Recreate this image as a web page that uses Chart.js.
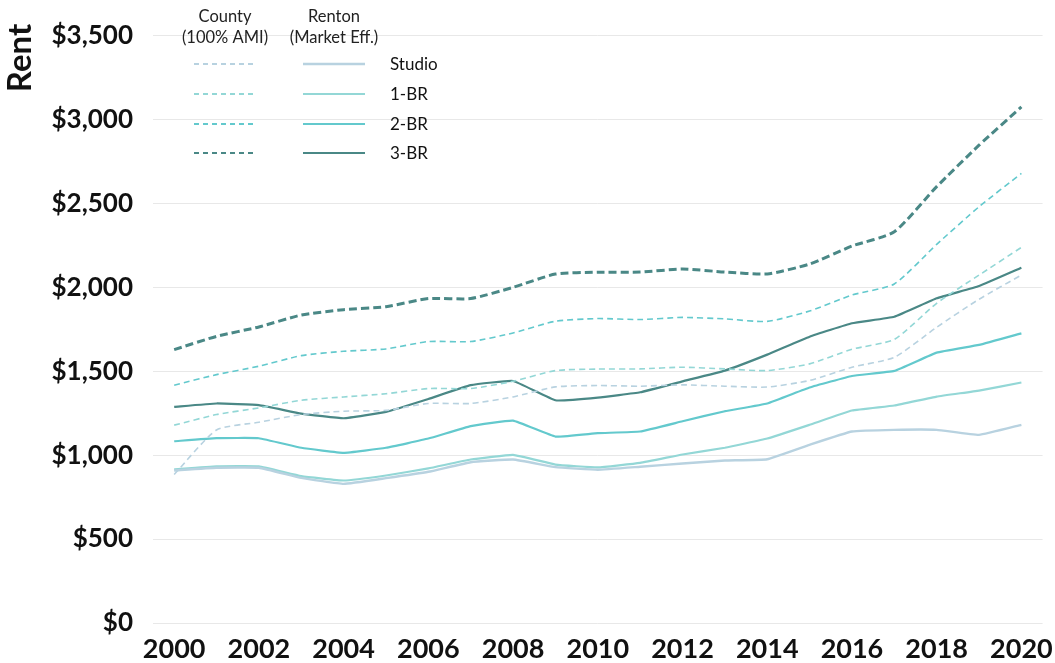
<!DOCTYPE html>
<html>
<head>
<meta charset="utf-8">
<script src="https://cdn.jsdelivr.net/npm/chart.js@4/dist/chart.umd.min.js"></script>
<style>
  html, body { margin: 0; padding: 0; background: #ffffff; }
  #wrap { width: 1055px; height: 663px; position: relative; }
</style>
</head>
<body>
<div id="wrap"><canvas id="rentChart"></canvas></div>
<script>
// Years on the x axis
const years = [2000, 2001, 2002, 2003, 2004, 2005, 2006, 2007, 2008, 2009, 2010,
               2011, 2012, 2013, 2014, 2015, 2016, 2017, 2018, 2019, 2020];

// King County rent at 100% AMI
const countyStudio = [885, 1150, 1196, 1242, 1262, 1267, 1308, 1308, 1347, 1407, 1415,
                      1411, 1419, 1411, 1406, 1445, 1524, 1583, 1762, 1929, 2073];
const county1BR    = [1179, 1242, 1282, 1327, 1347, 1366, 1397, 1397, 1440, 1504, 1513,
                      1514, 1524, 1514, 1504, 1544, 1631, 1690, 1905, 2073, 2238];
const county2BR    = [1417, 1480, 1530, 1593, 1619, 1633, 1677, 1677, 1728, 1798, 1814,
                      1808, 1821, 1812, 1797, 1859, 1954, 2020, 2256, 2480, 2679];
const county3BR    = [1629, 1708, 1764, 1835, 1867, 1885, 1933, 1933, 2000, 2079, 2090,
                      2091, 2109, 2091, 2080, 2139, 2246, 2331, 2600, 2847, 3075];

// Renton market-rate effective rent
const rentonStudio = [909, 925, 925, 865, 829, 863, 901, 958, 974, 929, 913,
                      931, 950, 968, 976, 1062, 1141, 1151, 1151, 1121, 1181];
const renton1BR    = [915, 933, 933, 875, 849, 879, 921, 974, 1002, 944, 927,
                      954, 1004, 1044, 1099, 1181, 1266, 1296, 1349, 1385, 1433];
const renton2BR    = [1083, 1101, 1101, 1044, 1014, 1044, 1099, 1173, 1206, 1111, 1131,
                      1141, 1202, 1262, 1308, 1403, 1472, 1502, 1611, 1657, 1726];
const renton3BR    = [1288, 1308, 1298, 1248, 1220, 1258, 1335, 1417, 1442, 1327, 1343,
                      1375, 1440, 1504, 1599, 1706, 1786, 1825, 1935, 2008, 2117];

// Y axis range and step
const yMin = 0, yMax = 3500, yStep = 500;

const unitNames = ['Studio', '1-BR', '2-BR', '3-BR'];
const colours = ['#b8d2e0', '#93d7d6', '#63c9cd', '#4a8886'];

const FONT = 'Lato, "Open Sans", sans-serif';

function countySet(label, data, i) {
  const heavy = i === 3;
  return {
    label: label, data: data,
    borderColor: colours[i], backgroundColor: colours[i],
    borderWidth: heavy ? 3 : 1.6,
    borderDash: heavy ? [8, 4] : [6, 4],
    pointRadius: 0, tension: 0.2, fill: false,
    group: 'county', unit: i
  };
}
function rentonSet(label, data, i) {
  return {
    label: label, data: data,
    borderColor: colours[i], backgroundColor: colours[i],
    borderWidth: i === 0 ? 2.4 : 2.2,
    pointRadius: 0, tension: 0.1, fill: false,
    group: 'renton', unit: i
  };
}

const datasets = [
  countySet('County Studio', countyStudio, 0),
  countySet('County 1-BR', county1BR, 1),
  countySet('County 2-BR', county2BR, 2),
  countySet('County 3-BR', county3BR, 3),
  rentonSet('Renton Studio', rentonStudio, 0),
  rentonSet('Renton 1-BR', renton1BR, 1),
  rentonSet('Renton 2-BR', renton2BR, 2),
  rentonSet('Renton 3-BR', renton3BR, 3)
];

// Two-column key (dashed county lines, solid Renton lines) and the rotated axis title
const keyPlugin = {
  id: 'twoColumnKey',
  afterDraw(chart) {
    const ctx = chart.ctx;
    ctx.save();
    ctx.fillStyle = '#222222';
    ctx.font = '16.5px ' + FONT;
    ctx.textAlign = 'center';
    ctx.textBaseline = 'middle';
    ctx.fillText('County', 225, 17);
    ctx.fillText('(100% AMI)', 225, 38);
    ctx.fillText('Renton', 334, 17);
    ctx.fillText('(Market Eff.)', 334, 38);
    const rows = [64, 94, 124, 153];
    chart.data.datasets.forEach(ds => {
      const y = rows[ds.unit];
      ctx.beginPath();
      ctx.strokeStyle = ds.borderColor;
      if (ds.group === 'county') {
        ctx.lineWidth = 1.8;
        ctx.setLineDash([5, 4]);
        ctx.moveTo(194, y); ctx.lineTo(253, y);
      } else {
        ctx.lineWidth = ds.borderWidth;
        ctx.setLineDash([]);
        ctx.moveTo(303, y); ctx.lineTo(365, y);
      }
      ctx.stroke();
    });
    ctx.setLineDash([]);
    ctx.textAlign = 'left';
    ctx.fillStyle = '#111111';
    ctx.font = '17px ' + FONT;
    unitNames.forEach((n, i) => ctx.fillText(n, 390, rows[i] + 1));

    // Axis title, reading bottom to top
    ctx.translate(20, 58);
    ctx.rotate(-Math.PI / 2);
    ctx.textAlign = 'center';
    ctx.font = 'bold 33px ' + FONT;
    ctx.fillText('Rent', 0, 0);
    ctx.restore();
  }
};

new Chart(document.getElementById('rentChart'), {
  type: 'line',
  data: { labels: years, datasets: datasets },
  plugins: [keyPlugin],
  options: {
    responsive: true,
    maintainAspectRatio: false,
    animation: false,
    layout: { padding: { top: 35, right: 12, left: 0, bottom: 0 } },
    plugins: { legend: { display: false }, tooltip: { enabled: false } },
    scales: {
      x: {
        type: 'category',
        offset: true,
        grid: { display: false },
        border: { display: false },
        ticks: {
          autoSkip: false,
          maxRotation: 0,
          padding: 2,
          color: '#111111',
          font: { family: FONT, size: 27, weight: 'bold' },
          callback: function (v, i) {
            const yr = years[i];
            return yr % 2 === 0 ? String(yr) : '';
          }
        },
        afterFit: s => { s.height = 40; }
      },
      y: {
        min: yMin, max: yMax,
        grid: { color: '#e8e8e8', lineWidth: 1, drawTicks: false },
        border: { display: false },
        ticks: {
          stepSize: yStep,
          padding: 20,
          color: '#111111',
          font: { family: FONT, size: 26, weight: 'bold' },
          callback: v => '$' + v.toLocaleString('en-US')
        },
        afterFit: s => { s.width = 153; }
      }
    }
  }
});
</script>
</body>
</html>
